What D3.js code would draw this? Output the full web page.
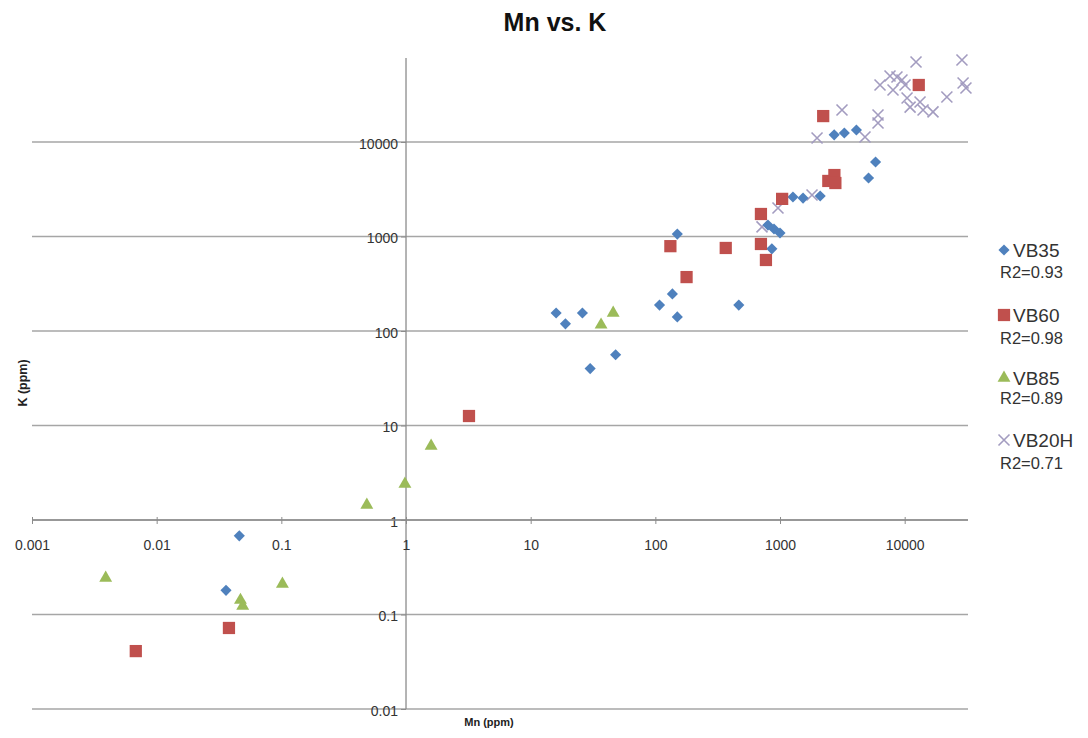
<!DOCTYPE html>
<html>
<head>
<meta charset="utf-8">
<script src="https://cdn.jsdelivr.net/npm/d3@7"></script>
<style>
  body { margin: 0; background: #fff; }
  text { font-family: "Liberation Sans", Arial, sans-serif; }
</style>
</head>
<body>
<div id="chart"></div>
<script>
// Mn (ppm) vs K (ppm)
const vb35 = [[0.046, 0.68], [0.036, 0.18], [16, 155], [19, 119], [26, 155], [30, 40], [48, 56],
    [108, 188], [137, 247], [150, 141], [150, 1060], [467, 188], [860, 740], [800, 1320],
    [895, 1200], [1000, 1090], [1270, 2620], [1530, 2550], [2100, 2680], [2720, 11900],
    [3280, 12450], [4100, 13400], [5130, 4160], [5840, 6140]];
const vb60 = [[0.0068, 0.041], [0.038, 0.072], [3.2, 12.6], [132, 790], [178, 372], [367, 756],
    [703, 833], [703, 1730], [771, 564], [1040, 2500], [2220, 18800], [2440, 3870],
    [2730, 4470], [2780, 3680], [12970, 40100]];
const vb85 = [[0.0039, 0.243], [0.047, 0.142], [0.049, 0.123], [0.102, 0.21], [0.485, 1.44],
    [0.98, 2.4], [1.59, 6.07], [36.7, 116], [45.9, 155]];
const vb20h = [[717, 1262], [963, 2003], [1806, 2750], [1982, 11020], [3142, 21800], [4805, 11300],
    [6110, 19300], [6110, 15900], [6340, 40100], [7625, 49900], [8670, 48700], [9510, 45300],
    [8060, 35500], [10070, 40100], [12330, 70300], [10450, 29200], [11050, 23400],
    [13280, 26500], [14040, 21800], [16870, 20800], [21800, 29900], [28800, 73800],
    [29400, 42100], [31000, 37300]];

const seriesNames = ["VB35", "VB60", "VB85", "VB20H"];
const r2Labels = ["R2=0.93", "R2=0.98", "R2=0.89", "R2=0.71"];
const xTicks = [0.001, 0.01, 0.1, 1, 10, 100, 1000, 10000];
const yTicks = [0.01, 0.1, 1, 10, 100, 1000, 10000];

const totalWidth = 1088, totalHeight = 738;
const plotLeft = 32, plotRight = 968, plotTop = 58, plotBottom = 709;

const svg = d3.select("#chart").append("svg")
    .attr("width", totalWidth)
    .attr("height", totalHeight);

const xScale = d3.scaleLog().domain([0.001, 32200]).range([plotLeft, plotRight]);
const yScale = d3.scaleLog().domain([0.01, 77400]).range([plotBottom, plotTop]);

const gridColor = "#a6a6a6";
const axisColor = "#8c8c8c";

// horizontal gridlines
svg.append("g")
    .selectAll("line")
    .data(yTicks)
    .enter().append("line")
    .attr("x1", plotLeft)
    .attr("x2", plotRight)
    .attr("y1", d => yScale(d))
    .attr("y2", d => yScale(d))
    .attr("stroke", gridColor)
    .attr("stroke-width", 1.3);

// y axis, crossing at Mn = 1
let yAxis = d3.axisLeft(yScale).tickValues(yTicks).tickFormat(d3.format("~g")).tickSize(5).tickPadding(3);
let gy = svg.append("g")
    .attr("transform", "translate(" + xScale(1) + ",0)")
    .call(yAxis);
gy.select(".domain").remove();
gy.append("line")
    .attr("y1", plotTop).attr("y2", plotBottom)
    .attr("stroke", axisColor).attr("stroke-width", 1.3);
gy.selectAll(".tick line").attr("stroke", axisColor);
gy.selectAll(".tick text")
    .attr("font-size", 14)
    .attr("fill", "#333")
    .attr("font-family", "Liberation Sans, Arial, sans-serif")
    .attr("dy", "0.45em");

// x axis, crossing at K = 1
let xAxis = d3.axisBottom(xScale).tickValues(xTicks).tickFormat(d3.format("~g")).tickSize(4).tickPadding(16);
let gx = svg.append("g")
    .attr("transform", "translate(0," + yScale(1) + ")")
    .call(xAxis);
gx.select(".domain").remove();
gx.append("line")
    .attr("x1", plotLeft).attr("x2", plotRight)
    .attr("stroke", axisColor).attr("stroke-width", 1.3);
gx.selectAll(".tick line").attr("stroke", axisColor).attr("y1", -3);
gx.selectAll(".tick text")
    .attr("font-size", 14)
    .attr("fill", "#333")
    .attr("font-family", "Liberation Sans, Arial, sans-serif");

// title and axis titles
svg.append("text")
    .attr("x", 555).attr("y", 31)
    .attr("text-anchor", "middle")
    .attr("font-size", 25)
    .attr("font-weight", "bold")
    .attr("fill", "#111")
    .text("Mn vs. K");

svg.append("text")
    .attr("x", 489).attr("y", 726)
    .attr("text-anchor", "middle")
    .attr("font-size", 11)
    .attr("font-weight", "bold")
    .attr("fill", "#222")
    .text("Mn (ppm)");

svg.append("text")
    .attr("transform", "translate(27,383) rotate(-90)")
    .attr("text-anchor", "middle")
    .attr("font-size", 12.5)
    .attr("font-weight", "bold")
    .attr("fill", "#222")
    .text("K (ppm)");

// markers
const colors = ["#4f81bd", "#c0504d", "#9bbb59", "#a39cc0"];

function drawMarker(sel, type) {
    if (type === 0) {
        sel.append("path")
            .attr("d", d3.symbol().type(d3.symbolSquare).size(62)())
            .attr("transform", "rotate(45)")
            .attr("fill", colors[0]);
    } else if (type === 1) {
        sel.append("path")
            .attr("d", d3.symbol().type(d3.symbolSquare).size(150)())
            .attr("fill", colors[1]);
    } else if (type === 2) {
        sel.append("path")
            .attr("d", d3.symbol().type(d3.symbolTriangle).size(72)())
            .attr("fill", colors[2]);
    } else {
        sel.append("path")
            .attr("d", "M-5.5,-5.5L5.5,5.5M-5.5,5.5L5.5,-5.5")
            .attr("stroke", colors[3])
            .attr("stroke-width", 1.6)
            .attr("fill", "none");
    }
}

const allSeries = [vb35, vb60, vb85, vb20h];
// draw order: crosses behind, then diamonds, squares, triangles
[3, 0, 1, 2].forEach(function (i) {
    let g = svg.append("g");
    let pts = g.selectAll("g")
        .data(allSeries[i])
        .enter().append("g")
        .attr("transform", d => "translate(" + xScale(d[0]) + "," + yScale(d[1]) + ")");
    drawMarker(pts, i);
});

// legend
const legendMarkY = [250, 315, 378, 440];
const legendNameY = [257, 322, 385, 447];
const legendR2Y = [278, 344, 404, 469];
seriesNames.forEach(function (name, i) {
    let lg = svg.append("g");
    let m = lg.append("g").attr("transform", "translate(1004," + legendMarkY[i] + ")");
    drawMarker(m, i);
    lg.append("text")
        .attr("x", 1013).attr("y", legendNameY[i])
        .attr("font-size", 19)
        .attr("fill", "#333")
        .text(name);
    lg.append("text")
        .attr("x", 1000).attr("y", legendR2Y[i])
        .attr("font-size", 16.5)
        .attr("fill", "#333")
        .text(r2Labels[i]);
});
</script>
</body>
</html>
